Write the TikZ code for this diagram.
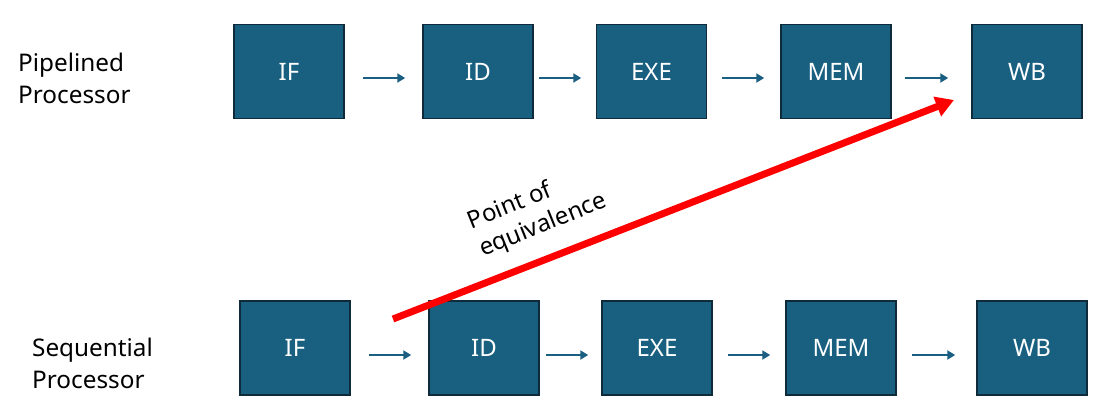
\documentclass[tikz,border=0pt]{standalone}
\usepackage{fontspec}
\setmainfont{Noto Sans}
\usetikzlibrary{arrows.meta}
\definecolor{boxfill}{RGB}{24,95,128}
\definecolor{boxline}{RGB}{14,42,59}
\definecolor{conncol}{RGB}{26,95,130}
\begin{document}
\begin{tikzpicture}[x=1pt,y=-1pt,
  stage/.style={draw=boxline, line width=1.5pt, fill=boxfill, minimum width=110pt, minimum height=94pt, inner sep=0pt, text=white, font=\fontsize{24}{28}\selectfont},
  conn/.style={draw=conncol, line width=2pt, -{Triangle[length=8pt,width=9pt]}},
  rowlabel/.style={align=left, anchor=base west, inner sep=0pt, font=\fontsize{24.3}{31.6}\selectfont},
  equiv/.style={draw=red, line width=7pt, -{Triangle[length=18pt,width=20pt]}}]
\useasboundingbox (0,0) rectangle (1118,418);
% labels (anchored at the baseline of the last line)
\node[rowlabel] (plabel) at (18,103.3) {Pipelined\\Processor};
\node[rowlabel] (slabel) at (32,388) {Sequential\\Processor};
% top row
\node[stage] (pIF) at (289,71.5) {IF};
\node[stage] (pID) at (478,71.5) {ID};
\node[stage] (pEXE) at (651.5,71.5) {EXE};
\node[stage] (pMEM) at (836,71.5) {MEM};
\node[stage] (pWB) at (1027,71.5) {WB};
% bottom row
\node[stage] (sIF) at (295,348) {IF};
\node[stage] (sID) at (484,348) {ID};
\node[stage] (sEXE) at (657,348) {EXE};
\node[stage] (sMEM) at (841,348) {MEM};
\node[stage] (sWB) at (1032,348) {WB};
% top connectors
\draw[conn] ([xshift=18pt,yshift=-6.5pt]pIF.east) -- ([xshift=-17pt,yshift=-6.5pt]pID.west);
\draw[conn] ([xshift=5pt,yshift=-6.5pt]pID.east) -- ([xshift=-14.5pt,yshift=-6.5pt]pEXE.west);
\draw[conn] ([xshift=14.5pt,yshift=-6.5pt]pEXE.east) -- ([xshift=-16pt,yshift=-6.5pt]pMEM.west);
\draw[conn] ([xshift=13pt,yshift=-6.5pt]pMEM.east) -- ([xshift=-23pt,yshift=-6.5pt]pWB.west);
% bottom connectors
\draw[conn] ([xshift=18pt,yshift=-7pt]sIF.east) -- ([xshift=-17pt,yshift=-7pt]sID.west);
\draw[conn] ([xshift=6pt,yshift=-7pt]sID.east) -- ([xshift=-13pt,yshift=-7pt]sEXE.west);
\draw[conn] ([xshift=15pt,yshift=-7pt]sEXE.east) -- ([xshift=-15pt,yshift=-7pt]sMEM.west);
\draw[conn] ([xshift=15pt,yshift=-7pt]sMEM.east) -- ([xshift=-21pt,yshift=-7pt]sWB.west);
% point of equivalence
\coordinate (eqa) at (393,319);
\coordinate (eqb) at (954,100);
\draw[equiv] (eqa) -- (eqb);
\node[rotate=22, align=left, anchor=base west, inner sep=0pt, font=\fontsize{24}{30}\selectfont] (eqlabel) at (483,257) {Point of\\equivalence};
\end{tikzpicture}
\end{document}
